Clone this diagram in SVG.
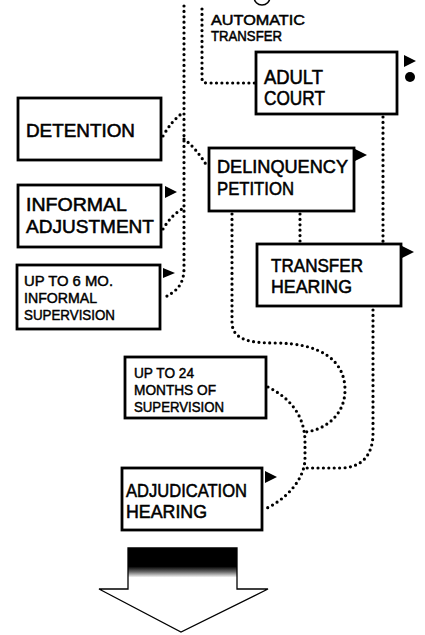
<svg xmlns="http://www.w3.org/2000/svg" width="425" height="635" viewBox="0 0 425 635">
  <style>
    .box { fill: #fff; stroke: #000; stroke-width: 2.8; }
    .lbl { font-family: "Liberation Sans", Arial, sans-serif; font-size: 19px; fill: #000; stroke: #000; stroke-width: 0.55; }
    .sm { font-family: "Liberation Sans", Arial, sans-serif; font-size: 14px; fill: #000; stroke: #000; stroke-width: 0.45; }
    .dot { fill: none; stroke: #000; stroke-width: 3.2; stroke-linecap: round; stroke-dasharray: 0 5.4; }
    .tri { fill: #000; }
  </style>
  <defs>
    <linearGradient id="fade" gradientUnits="userSpaceOnUse" x1="0" y1="548" x2="0" y2="589">
      <stop offset="0" stop-color="#000"/>
      <stop offset="0.45" stop-color="#000"/>
      <stop offset="0.58" stop-color="#666"/>
      <stop offset="0.72" stop-color="#fff"/>
      <stop offset="1" stop-color="#fff"/>
    </linearGradient>
  </defs>
  <rect width="425" height="635" fill="#fff"/>

  <!-- partial circled number at top -->
  <circle cx="262" cy="-3" r="8" fill="none" stroke="#000" stroke-width="1.5"/>

  <g id="connectors">
    <path class="dot" d="M184,6 V268 C184,285 176,292 163,298"/>
    <path class="dot" d="M202,9 V78 Q202,83 207,83 H256"/>
    <path class="dot" d="M163,136 Q172,120 184,112"/>
    <path class="dot" d="M163,229 Q172,214 184,208"/>
    <path class="dot" d="M184,139 Q196,148 207,166"/>
    <path class="dot" d="M300,214 V243"/>
    <path class="dot" d="M383,117 V243"/>
    <path class="dot" d="M232,214 V322 C232,340 250,343 275,343 C320,343 345,360 345,390 C345,415 325,430 305,432"/>
    <path class="dot" d="M268,387 C290,398 304,415 305,440 V458 C305,480 285,500 265,509"/>
    <path class="dot" d="M373,310 V433 C373,455 362,468 340,468 H307"/>
  </g>

  <g id="automatic-transfer">
    <text class="lbl" style="font-size:14.5px;stroke-width:0.5" x="211" y="25" textLength="94" lengthAdjust="spacingAndGlyphs">AUTOMATIC</text>
    <text class="lbl" style="font-size:14.5px;stroke-width:0.5" x="211" y="41" textLength="71" lengthAdjust="spacingAndGlyphs">TRANSFER</text>
  </g>

  <g id="adult-court">
    <rect class="box" x="256" y="52" width="141" height="62"/>
    <text class="lbl" style="font-size:20px" x="264" y="84" textLength="59" lengthAdjust="spacingAndGlyphs">ADULT</text>
    <text class="lbl" style="font-size:20px" x="264" y="105" textLength="61" lengthAdjust="spacingAndGlyphs">COURT</text>
    <polygon class="tri" points="404,55 416,61 404,67"/>
    <circle cx="410" cy="77" r="5"/>
  </g>

  <g id="detention">
    <rect class="box" x="18" y="98" width="143" height="62"/>
    <text class="lbl" x="26" y="137" textLength="109" lengthAdjust="spacingAndGlyphs">DETENTION</text>
  </g>

  <g id="delinquency-petition">
    <rect class="box" x="209" y="148" width="145" height="63"/>
    <text class="lbl" x="217" y="173" textLength="131" lengthAdjust="spacingAndGlyphs">DELINQUENCY</text>
    <text class="lbl" x="217" y="195" textLength="77" lengthAdjust="spacingAndGlyphs">PETITION</text>
    <polygon class="tri" points="355,149 367,155 355,161"/>
  </g>

  <g id="informal-adjustment">
    <rect class="box" x="18" y="185" width="143" height="62"/>
    <text class="lbl" x="26" y="211" textLength="101" lengthAdjust="spacingAndGlyphs">INFORMAL</text>
    <text class="lbl" x="26" y="233" textLength="128" lengthAdjust="spacingAndGlyphs">ADJUSTMENT</text>
    <polygon class="tri" points="165,186 177,192 165,198"/>
  </g>

  <g id="transfer-hearing">
    <rect class="box" x="257" y="244" width="144" height="62"/>
    <text class="lbl" x="271" y="272" textLength="92" lengthAdjust="spacingAndGlyphs">TRANSFER</text>
    <text class="lbl" x="271" y="293" textLength="81" lengthAdjust="spacingAndGlyphs">HEARING</text>
    <polygon class="tri" points="402,246 414,252 402,258"/>
  </g>

  <g id="informal-supervision">
    <rect class="box" x="17" y="265" width="143" height="64"/>
    <text class="sm" x="24" y="286" textLength="89" lengthAdjust="spacingAndGlyphs">UP TO 6 MO.</text>
    <text class="sm" x="24" y="303" textLength="73" lengthAdjust="spacingAndGlyphs">INFORMAL</text>
    <text class="sm" x="24" y="320" textLength="91" lengthAdjust="spacingAndGlyphs">SUPERVISION</text>
    <polygon class="tri" points="163,268 175,273 163,278"/>
  </g>

  <g id="supervision-24">
    <rect class="box" x="125" y="357" width="141" height="61"/>
    <text class="sm" x="134" y="378" textLength="60" lengthAdjust="spacingAndGlyphs">UP TO 24</text>
    <text class="sm" x="134" y="395" textLength="82" lengthAdjust="spacingAndGlyphs">MONTHS OF</text>
    <text class="sm" x="134" y="412" textLength="90" lengthAdjust="spacingAndGlyphs">SUPERVISION</text>
  </g>

  <g id="adjudication-hearing">
    <rect class="box" x="122" y="468" width="140" height="62"/>
    <text class="lbl" x="126" y="497" textLength="121" lengthAdjust="spacingAndGlyphs">ADJUDICATION</text>
    <text class="lbl" x="126" y="518" textLength="81" lengthAdjust="spacingAndGlyphs">HEARING</text>
    <polygon class="tri" points="265,471 277,477 265,483"/>
  </g>

  <g id="outcome-arrow">
    <polygon points="128,548 237,548 237,589 268,589 181,632 99,589 128,589" fill="url(#fade)" stroke="#000" stroke-width="1.3" stroke-linejoin="miter"/>
  </g>
</svg>
